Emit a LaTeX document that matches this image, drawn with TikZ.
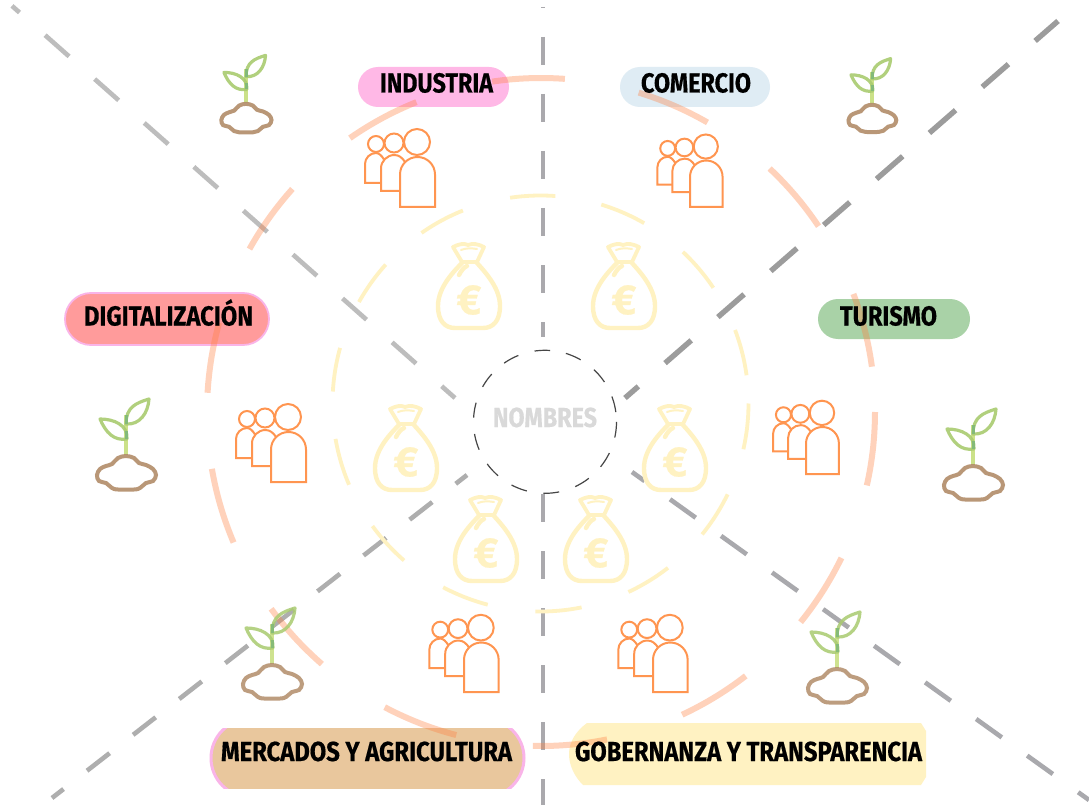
\documentclass[tikz,border=0pt]{standalone}
\usepackage{fontspec}
\usepackage{graphicx}
\setmainfont{Fira Sans}
\newfontfamily\labfont[UprightFont={* Bold},UprightFeatures={FakeBold=0.5}]{Fira Sans}
\definecolor{peopleor}{HTML}{FF9550}
\definecolor{bagy}{HTML}{FFF2C2}
\definecolor{leafg}{HTML}{A9CB6F}
\definecolor{stemg}{HTML}{C6DE7C}
\definecolor{stemd}{HTML}{7FB87A}
\definecolor{soilb}{HTML}{B28C69}
\definecolor{pinkb}{HTML}{F9B4E8}
\newcommand{\fitw}[2]{\resizebox{#1pt}{\height}{\fontsize{27.5}{27.5}\labfont #2}}
\newcommand{\arclist}{-98.4/-85.9,-124.9/-111.9,-150.8/-138.1,-176.7/-164.5,157/170.2,131/143.9,104.7/117.9,78.6/91.4,52.2/65,25.9/39,0/12.7,-20.7/-7.8,-46.8/-33.8,-73/-60.1}
\tikzset{
  graydash/.style={line width=4.6pt,line cap=butt},
  label/.style={anchor=base,inner sep=0pt,outer sep=0pt,text=black},
  plantpic/.pic={
    \draw[stemg,line width=4pt] (0,-40) -- (0,0);
    \draw[leafg,line width=3.2pt,line join=round] (0,-31) .. controls (0,-48) and (10,-52) .. (23,-56) .. controls (22,-42) and (14,-30) .. cycle;
    \draw[leafg,line width=3.2pt,line join=round] (-26,-36) .. controls (-12,-36) and (2,-30) .. (1,-16) .. controls (-12,-14) and (-20,-22) .. cycle;
    \draw[stemd,line width=3pt] (0,-40) -- (0,-31);
    \draw[stemd,line width=3pt] (0,-24) -- (0,-16);
    \draw[soilb,line width=4pt] plot[smooth cycle,tension=.6] coordinates {(0,1) (8,3) (13,8) (20,10) (27,14) (30,20) (27,26) (20,28) (14,33) (8,34.5) (-8,34.5) (-14,33) (-20,28) (-27,26) (-29,20) (-26,14) (-20,11) (-14,9) (-8,3)};
  },
  peoplepic/.pic={
    \begin{scope}[peopleor,line width=2pt,line join=miter]
    \draw (0,0) -- (0,-32.5) .. controls (0,-42.2) and (7.8,-50) .. (17.5,-50) .. controls (27.2,-50) and (35,-42.2) .. (35,-32.5) -- (35,0) -- cycle;
    \draw (0,-16) -- (-19,-16) -- (-19,-38.5) .. controls (-19,-46) and (-13,-52) .. (-5.5,-52) .. controls (-1,-52) and (2.5,-49) .. (5,-45);
    \draw (-19,-24) -- (-35,-24) -- (-35,-43) .. controls (-35,-49) and (-30,-54) .. (-24,-54) .. controls (-21,-54) and (-18,-51) .. (-16,-47.5);
    \draw (17,-65) circle[radius=13];
    \draw (-6,-64) circle[radius=9.5];
    \draw (-24,-63) circle[radius=8];
    \end{scope}
  },
  bagpic/.pic={
    \begin{scope}[bagy,line width=4.4pt,line join=round,line cap=round]
    \draw (-7,-66) .. controls (-18,-55) and (-31,-40) .. (-31,-23) .. controls (-31,-8) and (-24,-1) .. (-14,-1) -- (14,-1) .. controls (24,-1) and (31,-8) .. (31,-23) .. controls (31,-40) and (18,-55) .. (8,-66);
    \draw[line width=3.8pt] (-7,-67) -- (-16,-82) .. controls (-10,-85) and (-5,-86) .. (-1,-84) .. controls (4,-86) and (9,-85) .. (15,-82) -- (8,-67) -- cycle;
    \draw[line width=2pt] (-8,-79) .. controls (-3,-81) and (2,-81) .. (8,-80);
    \draw (-10,-54) .. controls (-8,-58) and (-5,-62) .. (-2,-63);
    \node[text=bagy,inner sep=0pt] at (0,-29) {\fontsize{42}{42}\labfont €};
    \end{scope}
  }
}
\begin{document}
\begin{tikzpicture}[x=1pt,y=-1pt]
\useasboundingbox (0,0) rectangle (1089,805);
% pills
\path[fill=white] (0,0) rectangle (1089,805);
\node[fill={rgb,255:red,255;green,184;blue,230},rounded corners=20pt,minimum width=151pt,minimum height=40pt,inner sep=0pt] (pindustria) at (433.5,87) {};
\node[fill={rgb,255:red,223;green,236;blue,244},rounded corners=20pt,minimum width=150pt,minimum height=40pt,inner sep=0pt] (pcomercio) at (695,87) {};
\node[fill={rgb,255:red,255;green,155;blue,155},draw=pinkb,line width=1.8pt,rounded corners=26pt,minimum width=204pt,minimum height=52pt,inner sep=0pt] (pdigital) at (167,319) {};
\node[fill={rgb,255:red,169;green,210;blue,167},rounded corners=20pt,minimum width=152pt,minimum height=40pt,inner sep=0pt] (pturismo) at (894,319) {};
\begin{scope}
\clip (200,728) rectangle (535,788);
\draw[fill={rgb,255:red,233;green,199;blue,157},draw=pinkb,line width=3pt,rounded corners=39pt] (211,719) rectangle (524,797);
\end{scope}
\fill[bagy] (587,723) -- (921,723) -- (926,731) -- (926,777) -- (921,785) -- (583,785) .. controls (575,777) and (569,766) .. (569,754) .. controls (569,742) and (576,731) .. cycle;
% gray dashed spokes
\draw[graydash,draw={rgb,255:red,170;green,169;blue,173},dash pattern=on 28pt off 29pt,dash phase=27pt] (543,7) -- (543,337);
\draw[graydash,draw={rgb,255:red,170;green,169;blue,173},dash pattern=on 28pt off 29pt] (543,494) -- (543,805);
\draw[graydash,draw={rgb,255:red,189;green,189;blue,189},dash pattern=on 32pt off 34.2pt,dash phase=22pt] (12,5.9) -- (455,398);
\draw[graydash,line width=5.4pt,draw={rgb,255:red,156;green,156;blue,156},dash pattern=on 34.7pt off 35.4pt,dash phase=17pt] (625,398) -- (1058,21);
\draw[graydash,draw={rgb,255:red,174;green,174;blue,174},dash pattern=on 28.6pt off 29.8pt,dash phase=14pt] (52,798) -- (467,475);
\draw[graydash,draw={rgb,255:red,169;green,169;blue,173},dash pattern=on 31.6pt off 31.2pt,dash phase=16pt] (632,472) -- (1089,800);
% rings
\foreach \a/\b in \arclist {
  \draw[draw={rgb,255:red,255;green,127;blue,63},draw opacity=.35,line width=6pt] plot[domain=\a:\b,samples=16] ({541+334*cos(\x)},{412+334*sin(\x)});
  \draw[draw=bagy,line width=3.8pt] plot[domain=\a:\b,samples=12] ({540.5+208*cos(\x)},{403.5+208*sin(\x)});
  \draw[draw={rgb,255:red,70;green,70;blue,70},line width=1.2pt] plot[domain=\a:\b,samples=10] ({545+71.5*cos(\x)},{421.8+71.5*sin(\x)});
}
% plants
\pic[scale=.85,opacity=.9] at (246,103) {plantpic};
\pic[scale=.81,opacity=.9] at (872,104) {plantpic};
\pic[opacity=.9] at (126,455) {plantpic};
\pic[opacity=.9] at (973,465) {plantpic};
\pic[opacity=.85] at (272,664) {plantpic};
\pic[opacity=.85] at (837,668) {plantpic};
% people
\pic at (400,207) {peoplepic};
\pic[scale=.93] at (690,207) {peoplepic};
\pic at (271,482) {peoplepic};
\pic[scale=.94] at (806,474) {peoplepic};
\pic[scale=.99] at (464,692) {peoplepic};
\pic[scale=.99] at (653,692) {peoplepic};
% bags
\pic at (469,329) {bagpic};
\pic at (624,329) {bagpic};
\pic at (406,491) {bagpic};
\pic at (675,491) {bagpic};
\pic at (486,582) {bagpic};
\pic at (596,582) {bagpic};
% labels
\node[label] (tindustria) at (436.5,92.5) {\fitw{113}{INDUSTRIA}};
\node[label] (tcomercio) at (696,92.5) {\fitw{110}{COMERCIO}};
\node[label] (tdigital) at (168.5,325.5) {\fitw{169}{DIGITALIZACIÓN}};
\node[label] (tturismo) at (888.5,325.5) {\fitw{97}{TURISMO}};
\node[label] (tmercados) at (366.5,761) {\fitw{291}{MERCADOS Y AGRICULTURA}};
\node[label] (tgobernanza) at (748.5,761) {\fitw{347}{GOBERNANZA Y TRANSPARENCIA}};
\node[label,text={rgb,255:red,217;green,217;blue,217}] (tnombres) at (545,427) {\fitw{104}{NOMBRES}};
\end{tikzpicture}
\end{document}
